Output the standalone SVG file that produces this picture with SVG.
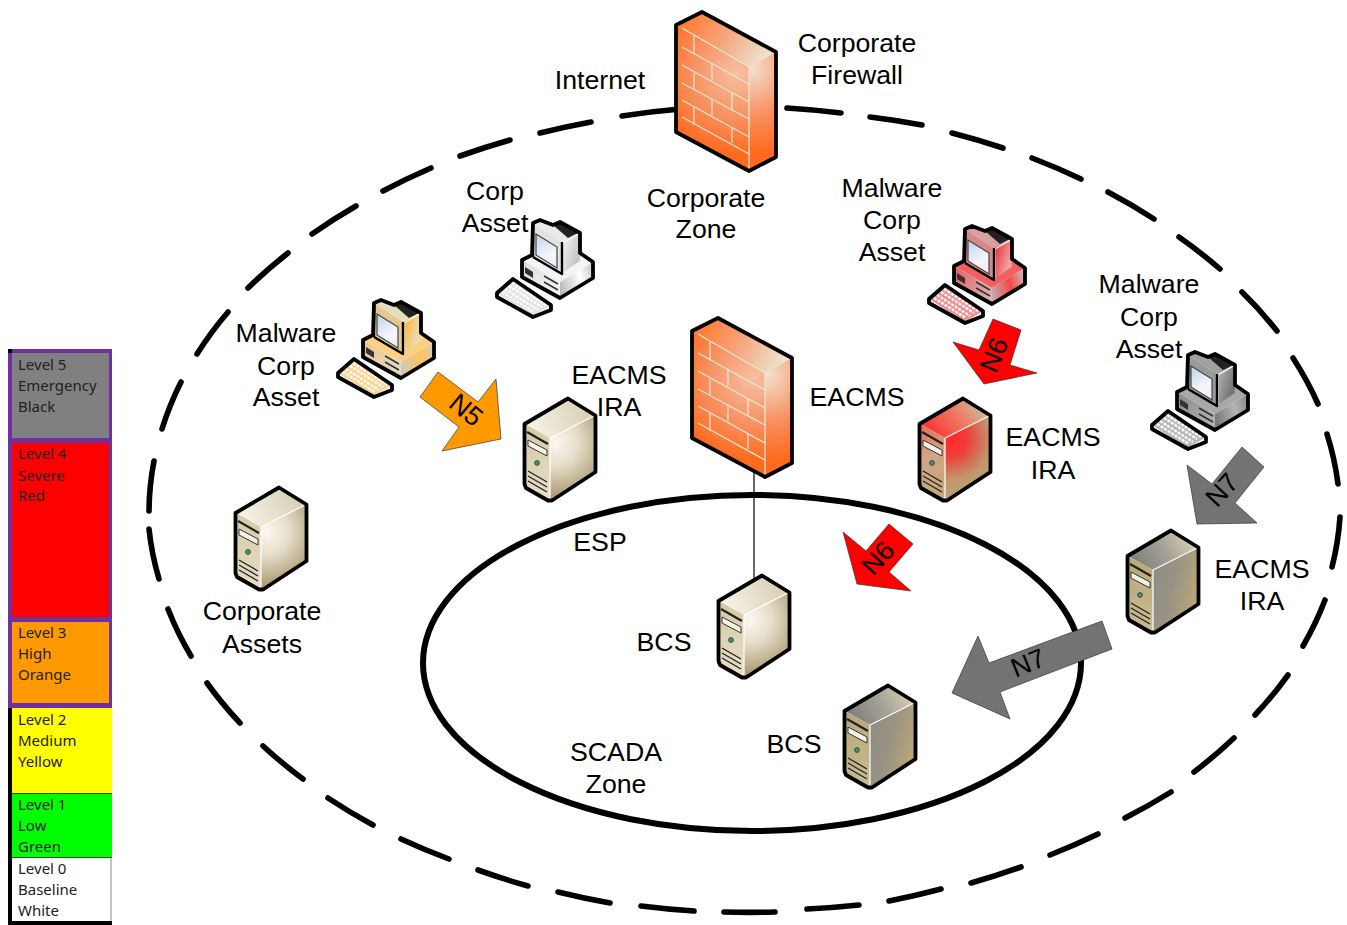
<svg xmlns="http://www.w3.org/2000/svg" width="1347" height="925" viewBox="0 0 1347 925">
<style>
text{font-family:"Liberation Sans",Arial,sans-serif;font-size:26.7px;fill:#000;text-anchor:middle}
.lg{font-family:"Noto Sans","Open Sans",sans-serif;font-size:15px;text-anchor:start;fill:#222}
.ol{fill:none;stroke:#000;stroke-width:3.8;stroke-linejoin:round}
.edge{fill:none;stroke:#fff;stroke-width:1.2}
.brick{fill:none;stroke:#efe8d2;stroke-width:1.2}
.arr{stroke-width:.7;stroke:#333}
.dl{fill:none;stroke:#222;stroke-width:1.3}
</style>
<defs>
<radialGradient id="fwF" gradientUnits="userSpaceOnUse" cx="62" cy="62" r="82"><stop offset="0" stop-color="#f6c0a4"/><stop offset=".55" stop-color="#f89060"/><stop offset="1" stop-color="#ff6a1c"/></radialGradient>
<linearGradient id="fwT" gradientUnits="userSpaceOnUse" x1="10" y1="5" x2="90" y2="45"><stop offset="0" stop-color="#ff7a30"/><stop offset=".5" stop-color="#f6a57c"/><stop offset="1" stop-color="#ebe3cd"/></linearGradient>
<radialGradient id="fwR" gradientUnits="userSpaceOnUse" cx="76" cy="58" r="85"><stop offset="0" stop-color="#f3e0cc"/><stop offset=".55" stop-color="#f89060"/><stop offset="1" stop-color="#ff6a1c"/></radialGradient>

<linearGradient id="cT" gradientUnits="userSpaceOnUse" x1="10" y1="30" x2="60" y2="10"><stop offset="0" stop-color="#f4f1e6"/><stop offset="1" stop-color="#d9d2b8"/></linearGradient>
<linearGradient id="cF" gradientUnits="userSpaceOnUse" x1="3" y1="30" x2="27" y2="100"><stop offset="0" stop-color="#d6c9a4"/><stop offset="1" stop-color="#e6dec6"/></linearGradient>
<radialGradient id="cR" gradientUnits="userSpaceOnUse" cx="32" cy="46" r="56"><stop offset="0" stop-color="#faf8f2"/><stop offset=".4" stop-color="#e6dfcc"/><stop offset="1" stop-color="#a8966c"/></radialGradient>

<linearGradient id="gT" gradientUnits="userSpaceOnUse" x1="10" y1="35" x2="60" y2="5"><stop offset="0" stop-color="#807f7c"/><stop offset=".6" stop-color="#a8a59a"/><stop offset="1" stop-color="#d4ccb0"/></linearGradient>
<linearGradient id="gF" gradientUnits="userSpaceOnUse" x1="3" y1="30" x2="27" y2="100"><stop offset="0" stop-color="#b8a878"/><stop offset="1" stop-color="#c9bb92"/></linearGradient>
<linearGradient id="gR" gradientUnits="userSpaceOnUse" x1="27" y1="50" x2="74" y2="60"><stop offset="0" stop-color="#8e8d85"/><stop offset=".45" stop-color="#9a9384"/><stop offset="1" stop-color="#bba875"/></linearGradient>

<linearGradient id="rT" gradientUnits="userSpaceOnUse" x1="15" y1="35" x2="55" y2="5"><stop offset="0" stop-color="#f93a36"/><stop offset=".6" stop-color="#ef7a66"/><stop offset="1" stop-color="#cdb190"/></linearGradient>
<linearGradient id="rF" gradientUnits="userSpaceOnUse" x1="3" y1="30" x2="27" y2="100"><stop offset="0" stop-color="#e8705e"/><stop offset=".4" stop-color="#d0a585"/><stop offset="1" stop-color="#c5a87c"/></linearGradient>
<radialGradient id="rR" gradientUnits="userSpaceOnUse" cx="32" cy="42" r="56"><stop offset="0" stop-color="#ff2a2a"/><stop offset=".3" stop-color="#ef3c38"/><stop offset=".75" stop-color="#c09a70"/><stop offset="1" stop-color="#b89f70"/></radialGradient>

<linearGradient id="pwF" gradientUnits="userSpaceOnUse" x1="26" y1="45" x2="64" y2="70"><stop offset="0" stop-color="#dcdcdc"/><stop offset="1" stop-color="#f5f5f5"/></linearGradient>
<linearGradient id="pwR" gradientUnits="userSpaceOnUse" x1="62" y1="60" x2="97" y2="50"><stop offset="0" stop-color="#bbb"/><stop offset=".6" stop-color="#fff"/><stop offset="1" stop-color="#ccc"/></linearGradient>
<linearGradient id="pwS" gradientUnits="userSpaceOnUse" x1="66" y1="20" x2="84" y2="25"><stop offset="0" stop-color="#f4f4f4"/><stop offset="1" stop-color="#c8c8c8"/></linearGradient>
<linearGradient id="poF" gradientUnits="userSpaceOnUse" x1="26" y1="45" x2="64" y2="70"><stop offset="0" stop-color="#e8c78a"/><stop offset="1" stop-color="#e4dccb"/></linearGradient>
<linearGradient id="poR" gradientUnits="userSpaceOnUse" x1="62" y1="60" x2="97" y2="50"><stop offset="0" stop-color="#d0c8b8"/><stop offset=".6" stop-color="#ffc25e"/><stop offset="1" stop-color="#d8cdb8"/></linearGradient>
<linearGradient id="poS" gradientUnits="userSpaceOnUse" x1="66" y1="20" x2="84" y2="25"><stop offset="0" stop-color="#ffb52e"/><stop offset="1" stop-color="#e9d9b8"/></linearGradient>
<linearGradient id="prF" gradientUnits="userSpaceOnUse" x1="26" y1="45" x2="64" y2="70"><stop offset="0" stop-color="#e86060"/><stop offset="1" stop-color="#d8b4b4"/></linearGradient>
<linearGradient id="prR" gradientUnits="userSpaceOnUse" x1="62" y1="60" x2="97" y2="50"><stop offset="0" stop-color="#c8a8a8"/><stop offset=".55" stop-color="#f24848"/><stop offset="1" stop-color="#d8b8b8"/></linearGradient>
<linearGradient id="prS" gradientUnits="userSpaceOnUse" x1="66" y1="20" x2="84" y2="25"><stop offset="0" stop-color="#f22a2a"/><stop offset="1" stop-color="#e9a0a0"/></linearGradient>
<linearGradient id="pgF" gradientUnits="userSpaceOnUse" x1="26" y1="45" x2="64" y2="70"><stop offset="0" stop-color="#8c8c8c"/><stop offset="1" stop-color="#b0b0b0"/></linearGradient>
<linearGradient id="pgR" gradientUnits="userSpaceOnUse" x1="62" y1="60" x2="97" y2="50"><stop offset="0" stop-color="#777"/><stop offset=".6" stop-color="#b4b4b4"/><stop offset="1" stop-color="#8a8a8a"/></linearGradient>
<linearGradient id="pgS" gradientUnits="userSpaceOnUse" x1="66" y1="20" x2="84" y2="25"><stop offset="0" stop-color="#b5b5b5"/><stop offset="1" stop-color="#777"/></linearGradient>
<linearGradient id="scr" gradientUnits="userSpaceOnUse" x1="40" y1="15" x2="61" y2="48"><stop offset="0" stop-color="#c0d2ec"/><stop offset=".6" stop-color="#f4f6fa"/><stop offset="1" stop-color="#e8eef6"/></linearGradient>

<path id="fwFf" d="M1 14L74 56V160L1 121Z"/>
<path id="fwTf" d="M1 14L27 1L101 41L74 56Z"/>
<path id="fwRf" d="M74 56L101 41V146L74 160Z"/>
<g id="firewall">
<use href="#fwFf" fill="url(#fwF)"/><use href="#fwTf" fill="url(#fwT)"/><use href="#fwRf" fill="url(#fwR)"/>
<g class="brick">
<path d="M7 17L74 56M7 36L74 73M7 54L74 91M7 72L74 108M7 89L74 126M7 106L74 143"/>
<path d="M19 25V43M37 52V69M19 62V78M57 82V99M37 88V104M19 96V114M57 116V132M74 56V160"/>
</g>
<path class="ol" d="M27 1L1 14V121L74 160L101 146V41Z"/>
</g>

<path id="sT" d="M45 2L72 18L27 41L2 27Z"/>
<path id="sF" d="M2 27L27 41V103L2 89Z"/>
<path id="sR" d="M27 41L72 18V75L27 103Z"/>
<g id="sDetail">
<path class="edge" d="M27 102V41L71 19"/>
<path d="M4 35L25 47" stroke="#222" stroke-width="2.2" fill="none"/>
<path d="M5 43L24 53V59L5 49Z" fill="#f4f1e6" stroke="#333" stroke-width="1"/>
<circle cx="14" cy="66" r="2.4" fill="#3a9a78" stroke="#333" stroke-width=".8"/>
<path class="dl" d="M5 74L24 85M5 79L24 90M5 84L24 95"/>
<path class="ol" d="M45 1.500L72.500 18.500V75L29 103.500L25 103.500L3 91L1.500 87V27Z"/>
</g>

<path id="pBaseF" d="M26 40L64 62V78L26 57Z"/>
<path id="pBaseR" d="M64 62L97 42V58L64 78Z"/>
<path id="pBaseT" d="M26 40L36 35L66 53L84 33L97 42L64 62Z"/>
<path id="pMonF" d="M37 3L66 22V53L37 37Z"/>
<path id="pMonS" d="M66 22L84 13V41L66 53Z"/>
<path id="pMonT" d="M37 3L44 0L57 5L64 2L84 13L66 22Z"/>
<path id="pKey" d="M1 73L17 59L55 85L37 96Z"/>
<g id="pDetail">
<path d="M57 5L64 2L82 13L72 18Z" fill="#222"/>
<path d="M40 14L61 27V48L40 35Z" fill="url(#scr)" stroke="#444" stroke-width="1.2"/>
<circle cx="60" cy="50" r="1.3" fill="#2e8b57"/>
<path d="M29 47V53L37 58V52Z" fill="#333"/>
<path d="M48 56L62 64M48 62L62 70" stroke="#333" stroke-width="1.600" fill="none"/>
<path class="edge" d="M67 53V23L84 13"/>
<path d="M37 37L66 54V22" fill="none" stroke="#000" stroke-width="2.400" stroke-linejoin="round"/>
<path class="ol" d="M37 3L44 0L57 5L64 2L84 13V33L97 42V58L64 78L26 57V40L36 35Z"/>
<path d="M37 3V37" fill="none" stroke="#000" stroke-width="2.400"/>
<path d="M6 72L38 92M9 69L42 90M13 66L46 87M16 63L50 85" stroke="#fff" stroke-width="2.300" stroke-dasharray="3 1.200" fill="none"/>
<path class="ol" d="M1 73L17 59L55 85V90L37 97L1 77Z"/>
</g>
</defs>

<rect width="1347" height="925" fill="#fff"/>

<g id="connectors">
<path d="M754 470V580" fill="none" stroke="#000" stroke-width="1.2"/>
</g>
<g id="zones">
<path id="corporate-zone-boundary" fill="none" stroke="#000" stroke-width="5.600" stroke-linecap="round" d="
M680 109A595 402 0 0 0 622 116
M591 122A595 402 0 0 0 540 133
M510 140A595 402 0 0 0 460 156
M431 168A595 402 0 0 0 383 191
M356 206A595 402 0 0 0 312 234
M288 253A595 402 0 0 0 248 288
M228 312A595 402 0 0 0 197 354
M181 382A595 402 0 0 0 162 429
M154 461A595 402 0 0 0 149 511
M149 529A595 402 0 0 0 159 579
M168 609A595 402 0 0 0 191 656
M207 683A595 402 0 0 0 240 723
M263 746A595 402 0 0 0 303 779
M328 798A595 402 0 0 0 373 825
M401 839A595 402 0 0 0 449 859
M478 870A595 402 0 0 0 528 886
M558 892A595 402 0 0 0 610 903
M641 906A595 402 0 0 0 694 911
M724 912A595 402 0 0 0 775 912
M807 909A595 402 0 0 0 859 905
M889 901A595 402 0 0 0 941 889
M971 883A595 402 0 0 0 1021 867
M1050 855A595 402 0 0 0 1098 834
M1125 818A595 402 0 0 0 1171 792
M1194 772A595 402 0 0 0 1234 738
M1255 715A595 402 0 0 0 1288 675
M1303 646A595 402 0 0 0 1325 600
M1332 567A595 402 0 0 0 1340 517
M1338 484A595 402 0 0 0 1327 434
M1318 404A595 402 0 0 0 1293 358
M1277 331A595 402 0 0 0 1242 292
M1220 269A595 402 0 0 0 1179 237
M1154 219A595 402 0 0 0 1108 192
M1081 179A595 402 0 0 0 1032 158
M1003 148A595 402 0 0 0 952 133
M922 125A595 402 0 0 0 870 117
M841 113A595 402 0 0 0 787 108"/>
<ellipse id="esp-boundary" cx="752" cy="663" rx="329" ry="168" fill="none" stroke="#000" stroke-width="6"/>
</g>

<g id="legend">
<rect x="8" y="349" width="104" height="359" fill="#7030a0"/>
<rect x="8" y="708" width="4" height="217" fill="#000"/>
<rect x="8" y="921" width="104" height="4" fill="#000"/>
<rect x="8" y="349" width="4" height="4" fill="#000"/>
<rect x="12" y="353" width="97" height="85" fill="#808080"/>
<rect x="12" y="443" width="97" height="174" fill="#ff0000"/>
<rect x="12" y="622" width="97" height="81" fill="#ff9900"/>
<rect x="12" y="708" width="100" height="85" fill="#ffff00"/>
<rect x="12" y="794" width="100" height="63" fill="#00ff00"/>
<rect x="12" y="858" width="98.500" height="63" fill="#fff"/>
<path d="M12 793.500H112M12 857.500H112" stroke="#2a4a2a" stroke-width="1"/>
<path d="M111 858V921" stroke="#888" stroke-width="1"/>
<g>
<text class="lg" x="18" y="370">Level 5</text><text class="lg" x="18" y="391">Emergency</text><text class="lg" x="18" y="412">Black</text>
<text class="lg" x="18" y="459">Level 4</text><text class="lg" x="18" y="481">Severe</text><text class="lg" x="18" y="501">Red</text>
<text class="lg" x="18" y="638">Level 3</text><text class="lg" x="18" y="659">High</text><text class="lg" x="18" y="680">Orange</text>
<text class="lg" x="18" y="725">Level 2</text><text class="lg" x="18" y="746">Medium</text><text class="lg" x="18" y="767">Yellow</text>
<text class="lg" x="18" y="810">Level 1</text><text class="lg" x="18" y="831">Low</text><text class="lg" x="18" y="852">Green</text>
<text class="lg" x="18" y="874">Level 0</text><text class="lg" x="18" y="895">Baseline</text><text class="lg" x="18" y="916">White</text>
</g>
</g>

<g id="corporate-firewall" transform="translate(675 11)"><use href="#firewall"/></g>
<g id="eacms-firewall" transform="translate(691 317)"><use href="#firewall"/></g>

<g id="server-eacms-1" transform="translate(523 397)"><use href="#sT" fill="url(#cT)"/><use href="#sF" fill="url(#cF)"/><use href="#sR" fill="url(#cR)"/><use href="#sDetail"/></g>
<g id="server-corporate" transform="translate(234 486)"><use href="#sT" fill="url(#cT)"/><use href="#sF" fill="url(#cF)"/><use href="#sR" fill="url(#cR)"/><use href="#sDetail"/></g>
<g id="server-bcs-1" transform="translate(717 574)"><use href="#sT" fill="url(#cT)"/><use href="#sF" fill="url(#cF)"/><use href="#sR" fill="url(#cR)"/><use href="#sDetail"/></g>
<g id="server-eacms-red" transform="translate(918 397)"><use href="#sT" fill="url(#rT)"/><use href="#sF" fill="url(#rF)"/><use href="#sR" fill="url(#rR)"/><use href="#sDetail"/></g>
<g id="server-eacms-gray" transform="translate(1126 529)"><use href="#sT" fill="url(#gT)"/><use href="#sF" fill="url(#gF)"/><use href="#sR" fill="url(#gR)"/><use href="#sDetail"/></g>
<g id="server-bcs-gray" transform="translate(843 684)"><use href="#sT" fill="url(#gT)"/><use href="#sF" fill="url(#gF)"/><use href="#sR" fill="url(#gR)"/><use href="#sDetail"/></g>

<g id="pc-corp" transform="translate(496 220)"><use href="#pBaseT" fill="#f4f4f4"/><use href="#pBaseF" fill="url(#pwF)"/><use href="#pBaseR" fill="url(#pwR)"/><use href="#pMonT" fill="#e8e8e8"/><use href="#pMonF" fill="#e2e2e2"/><use href="#pMonS" fill="url(#pwS)"/><use href="#pKey" fill="#e4e4e4"/><use href="#pDetail"/></g>
<g id="pc-malware-orange" transform="translate(337 300)"><use href="#pBaseT" fill="#ffd080"/><use href="#pBaseF" fill="url(#poF)"/><use href="#pBaseR" fill="url(#poR)"/><use href="#pMonT" fill="#e8dcc0"/><use href="#pMonF" fill="#e4c890"/><use href="#pMonS" fill="url(#poS)"/><use href="#pKey" fill="#fbd490"/><use href="#pDetail"/></g>
<g id="pc-malware-red" transform="translate(928 226)"><use href="#pBaseT" fill="#f06060"/><use href="#pBaseF" fill="url(#prF)"/><use href="#pBaseR" fill="url(#prR)"/><use href="#pMonT" fill="#d8a0a0"/><use href="#pMonF" fill="#d88888"/><use href="#pMonS" fill="url(#prS)"/><use href="#pKey" fill="#ef8f8f"/><use href="#pDetail"/></g>
<g id="pc-malware-gray" transform="translate(1151 352)"><use href="#pBaseT" fill="#a8a8a8"/><use href="#pBaseF" fill="url(#pgF)"/><use href="#pBaseR" fill="url(#pgR)"/><use href="#pMonT" fill="#a0a0a0"/><use href="#pMonF" fill="#9a9a9a"/><use href="#pMonS" fill="url(#pgS)"/><use href="#pKey" fill="#b8b8b8"/><use href="#pDetail"/></g>

<g id="arrow-n5"><path class="arr" fill="#ff9900" d="M438 372L478 402L496 379L501 439L442 451L459 427L420 397Z"/><text x="466" y="419" transform="rotate(40 466 410)">N5</text></g>
<g id="arrow-n6-top"><path class="arr" fill="#ff0000" d="M993 319L1021 330L1010 365L1037 373L984 384L953 342L979 350Z"/><text x="994" y="364" transform="rotate(-68 994 355)">N6</text></g>
<g id="arrow-n6-esp"><path class="arr" fill="#ff0000" d="M889 524L913 544L889 572L911 591L857 584L843 532L866 551Z"/><text x="878" y="567" transform="rotate(-48 878 558)">N6</text></g>
<g id="arrow-n7-right"><path class="arr" fill="#737373" d="M1242 447L1264 467L1235 503L1257 523L1197 524L1187 465L1212 484Z"/><text x="1222" y="499" transform="rotate(-47 1222 490)">N7</text></g>
<g id="arrow-n7-bottom"><path class="arr" fill="#737373" d="M1102 621L1112 649L1000 692L1010 719L952 693L978 636L989 663Z"/><text x="1028" y="672" transform="rotate(-22 1028 663)">N7</text></g>

<g id="labels">
<text x="600" y="89">Internet</text>
<text x="857" y="52">Corporate</text><text x="857" y="84">Firewall</text>
<text x="495" y="200">Corp</text><text x="495" y="232">Asset</text>
<text x="706" y="207">Corporate</text><text x="706" y="238">Zone</text>
<text x="892" y="197">Malware</text><text x="892" y="229">Corp</text><text x="892" y="261">Asset</text>
<text x="1149" y="293">Malware</text><text x="1149" y="326">Corp</text><text x="1149" y="358">Asset</text>
<text x="286" y="342">Malware</text><text x="286" y="375">Corp</text><text x="286" y="406">Asset</text>
<text x="619" y="384">EACMS</text><text x="619" y="416">IRA</text>
<text x="857" y="406">EACMS</text>
<text x="1053" y="446">EACMS</text><text x="1053" y="479">IRA</text>
<text x="1262" y="578">EACMS</text><text x="1262" y="610">IRA</text>
<text x="600" y="551">ESP</text>
<text x="664" y="651">BCS</text>
<text x="794" y="753">BCS</text>
<text x="616" y="761">SCADA</text><text x="616" y="793">Zone</text>
<text x="262" y="620">Corporate</text><text x="262" y="653">Assets</text>
</g>
</svg>
